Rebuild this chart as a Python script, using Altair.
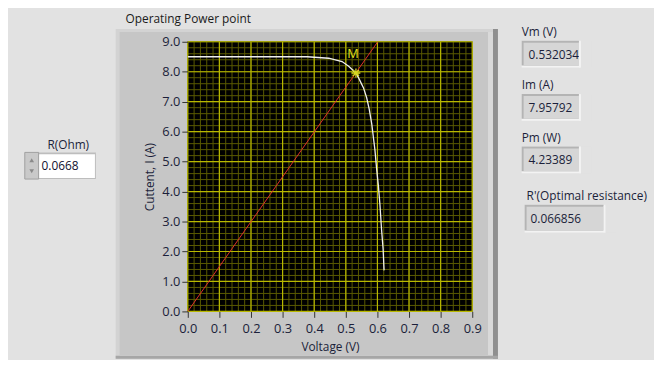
import altair as alt
import pandas as pd

# ---------------- data ----------------
iv_voltage = [0.000, 0.100, 0.200, 0.300, 0.378, 0.446, 0.488, 0.509, 0.532034,
              0.542, 0.556, 0.566, 0.574, 0.582, 0.592, 0.598, 0.603, 0.608,
              0.613, 0.618, 0.621]
iv_current = [8.50, 8.50, 8.50, 8.50, 8.50, 8.45, 8.34, 8.18, 7.95792,
              7.76, 7.46, 7.13, 6.75, 6.26, 5.40, 4.70, 4.20, 3.55,
              2.74, 2.08, 1.37]
load_voltage = [0.0, 0.601]
load_current = [0.0, 9.0]
mpp_voltage = [0.532034]
mpp_current = [7.95792]
mpp_label = ["M"]

x_ticks = [0.0, 0.1, 0.2, 0.3, 0.4, 0.5, 0.6, 0.7, 0.8, 0.9]
y_ticks = [0.0, 1.0, 2.0, 3.0, 4.0, 5.0, 6.0, 7.0, 8.0, 9.0]
x_minor = [round(i * 0.02, 3) for i in range(46)]
y_minor = [round(i * 0.2, 3) for i in range(46)]

chart_title = "Operating Power point"
x_title = "Voltage (V)"
y_title = "Cuttent, I (A)"
control_label = "R(Ohm)"
control_value = "0.0668"
indicator_labels = ["Vm (V)", "Im (A)", "Pm (W)", "R'(Optimal resistance)"]
indicator_values = ["0.532034", "7.95792", "4.23389", "0.066856"]

# ---------------- layout (page pixels) ----------------
W, H = 288, 273
OX, OY = 190, 40          # page position of the plot origin
FONT = "Open Sans"
TXT = "#1b1f3a"

ind_label_pos = [(528, 34), (528, 88), (528, 141), (533, 200)]
ind_box = [(529, 40, 587, 65), (529, 94, 587, 119), (529, 147, 587, 172), (532, 206, 612, 232)]
ind_value_pos = [(535, 57), (535, 111), (535, 164), (537, 223)]

one = pd.DataFrame({"k": [0]})


def rect(x1, y1, x2, y2, fill, stroke=None, sw=0):
    kw = dict(fill=fill)
    if stroke:
        kw.update(stroke=stroke, strokeWidth=sw)
    return alt.Chart(one).mark_rect(**kw).encode(
        x=alt.value(x1 - OX), x2=alt.value(x2 - OX),
        y=alt.value(y1 - OY), y2=alt.value(y2 - OY))


def label(txt, x, y, size=12, color=TXT):
    return alt.Chart(pd.DataFrame({"t": [txt]})).mark_text(
        font=FONT, fontSize=size, color=color, align="left", baseline="alphabetic").encode(
        x=alt.value(x - OX), y=alt.value(y - OY), text="t:N")


xs = alt.Scale(domain=[0, 0.9], nice=False, zero=False)
ys = alt.Scale(domain=[0, 9], nice=False, zero=False)

axis_common = dict(grid=False, domain=False, ticks=True, tickSize=6, tickColor="#333333",
                   tickWidth=1, labelFont=FONT, labelFontSize=13, labelColor=TXT,
                   titleFont=FONT, titleFontSize=12, titleFontWeight="normal",
                   titleColor=TXT, zindex=1, labelOverlap=False, labelFlush=False,
                   format=".1f")
ax_x = alt.Axis(values=x_ticks, title=x_title, labelPadding=5, titlePadding=7, **axis_common)
ax_y = alt.Axis(values=y_ticks, title=y_title, labelPadding=2, titlePadding=5, **axis_common)


def X(f):
    return alt.X(f, scale=xs, axis=ax_x)


def Y(f):
    return alt.Y(f, scale=ys, axis=ax_y)


layers = []
# panel behind the graph
layers.append(rect(117, 27, 504, 361, "#d3d3d3"))
layers.append(rect(121, 30, 494, 357, "#c6c6c6"))
layers.append(rect(494, 30, 499, 357, "#d9d9d9"))
layers.append(rect(499, 27, 504, 361, "#8f8f8f"))
layers.append(rect(117, 358, 504, 361, "#a6a6a6"))
# black plot area
layers.append(rect(OX, OY, OX + W, OY + H, "#000000"))

# grid
minor_x = alt.Chart(pd.DataFrame({"v": x_minor})).mark_rule(color="#5a5a00", strokeWidth=1).encode(x=X("v:Q"))
minor_y = alt.Chart(pd.DataFrame({"c": y_minor})).mark_rule(color="#5a5a00", strokeWidth=1).encode(y=Y("c:Q"))
major_x = alt.Chart(pd.DataFrame({"v": x_ticks})).mark_rule(color="#b8b800", strokeWidth=1.2).encode(x=X("v:Q"))
major_y = alt.Chart(pd.DataFrame({"c": y_ticks})).mark_rule(color="#b8b800", strokeWidth=1.2).encode(y=Y("c:Q"))
layers += [minor_x, minor_y, major_x, major_y]

load = alt.Chart(pd.DataFrame({"v": load_voltage, "c": load_current})).mark_line(
    color="#e0302c", strokeWidth=1).encode(x=X("v:Q"), y=Y("c:Q"))
iv = alt.Chart(pd.DataFrame({"v": iv_voltage, "c": iv_current})).mark_line(
    color="#efefef", strokeWidth=1.3).encode(x=X("v:Q"), y=Y("c:Q"))
layers += [load, iv]

mpp_df = pd.DataFrame({"v": mpp_voltage, "c": mpp_current, "t": mpp_label})
star = "M-1,0L1,0M0,-1L0,1M-0.7,-0.7L0.7,0.7M-0.7,0.7L0.7,-0.7"
mpp_pt = alt.Chart(mpp_df).mark_point(shape=star, size=80, filled=False, color="#d8d820",
                                     strokeWidth=1.3, opacity=1).encode(x=X("v:Q"), y=Y("c:Q"))
mpp_tx = alt.Chart(mpp_df).mark_text(font=FONT, fontSize=13, color="#e2e21e", dx=-3, dy=-12,
                                     baseline="bottom", align="center").encode(
    x=X("v:Q"), y=Y("c:Q"), text="t:N")
layers += [mpp_pt, mpp_tx]

# graph title
layers.append(label(chart_title, 127, 21, size=12, color="#1a1a1a"))

# left control
layers.append(alt.Chart(pd.DataFrame({"t": [control_label]})).mark_text(
    font=FONT, fontSize=12, color=TXT, align="center", baseline="alphabetic").encode(
    x=alt.value(69 - OX), y=alt.value(149 - OY), text="t:N"))
layers.append(rect(37, 152, 97, 179, "#bdbdbd"))
layers.append(rect(39, 154, 96, 178, "#ffffff"))
layers.append(rect(25, 152, 39, 179, "#c9c9c9", stroke="#a0a0a0", sw=1))
for yy, shp in [(160, "triangle-up"), (171, "triangle-down")]:
    layers.append(alt.Chart(one).mark_point(shape=shp, filled=True, size=22, color="#8a8a8a",
                                            opacity=1).encode(
        x=alt.value(32 - OX), y=alt.value(yy - OY)))
layers.append(label(control_value, 42, 170, size=12, color="#101030"))

# right indicators
for i in range(len(indicator_labels)):
    lx, ly = ind_label_pos[i]
    bx1, by1, bx2, by2 = ind_box[i]
    vx, vy = ind_value_pos[i]
    layers.append(label(indicator_labels[i], lx, ly))
    layers.append(rect(bx1 - 1, by1 - 1, bx2 + 1, by2 + 1, "#f3f3f3"))
    layers.append(rect(bx1 - 1, by1 - 1, bx2 - 1, by2 - 1, "#b4b4b4"))
    layers.append(rect(bx1 + 1, by1 + 1, bx2 - 1, by2 - 1, "#d6d6d6"))
    layers.append(label(indicator_values[i], vx, vy))
    # clip any overflow of the value at the box's right edge
    layers.append(rect(bx2 - 1, by1, bx2 + 1, by2 + 1, "#f3f3f3"))
    layers.append(rect(bx2 + 1, by1 - 1, bx2 + 12, by2 + 1, "#e2e2e2"))

chart = alt.layer(*layers).properties(
    width=W, height=H,
    padding={"left": OX - 8, "top": OY - 8, "right": 654 - (OX - 8) - W, "bottom": 352 - (OY - 8) - H},
    autosize=alt.AutoSizeParams(type="none"),
).configure(background="#e2e2e2").configure_view(strokeWidth=0)

chart.save("out.html", embed_options={"renderer": "svg", "actions": False})
